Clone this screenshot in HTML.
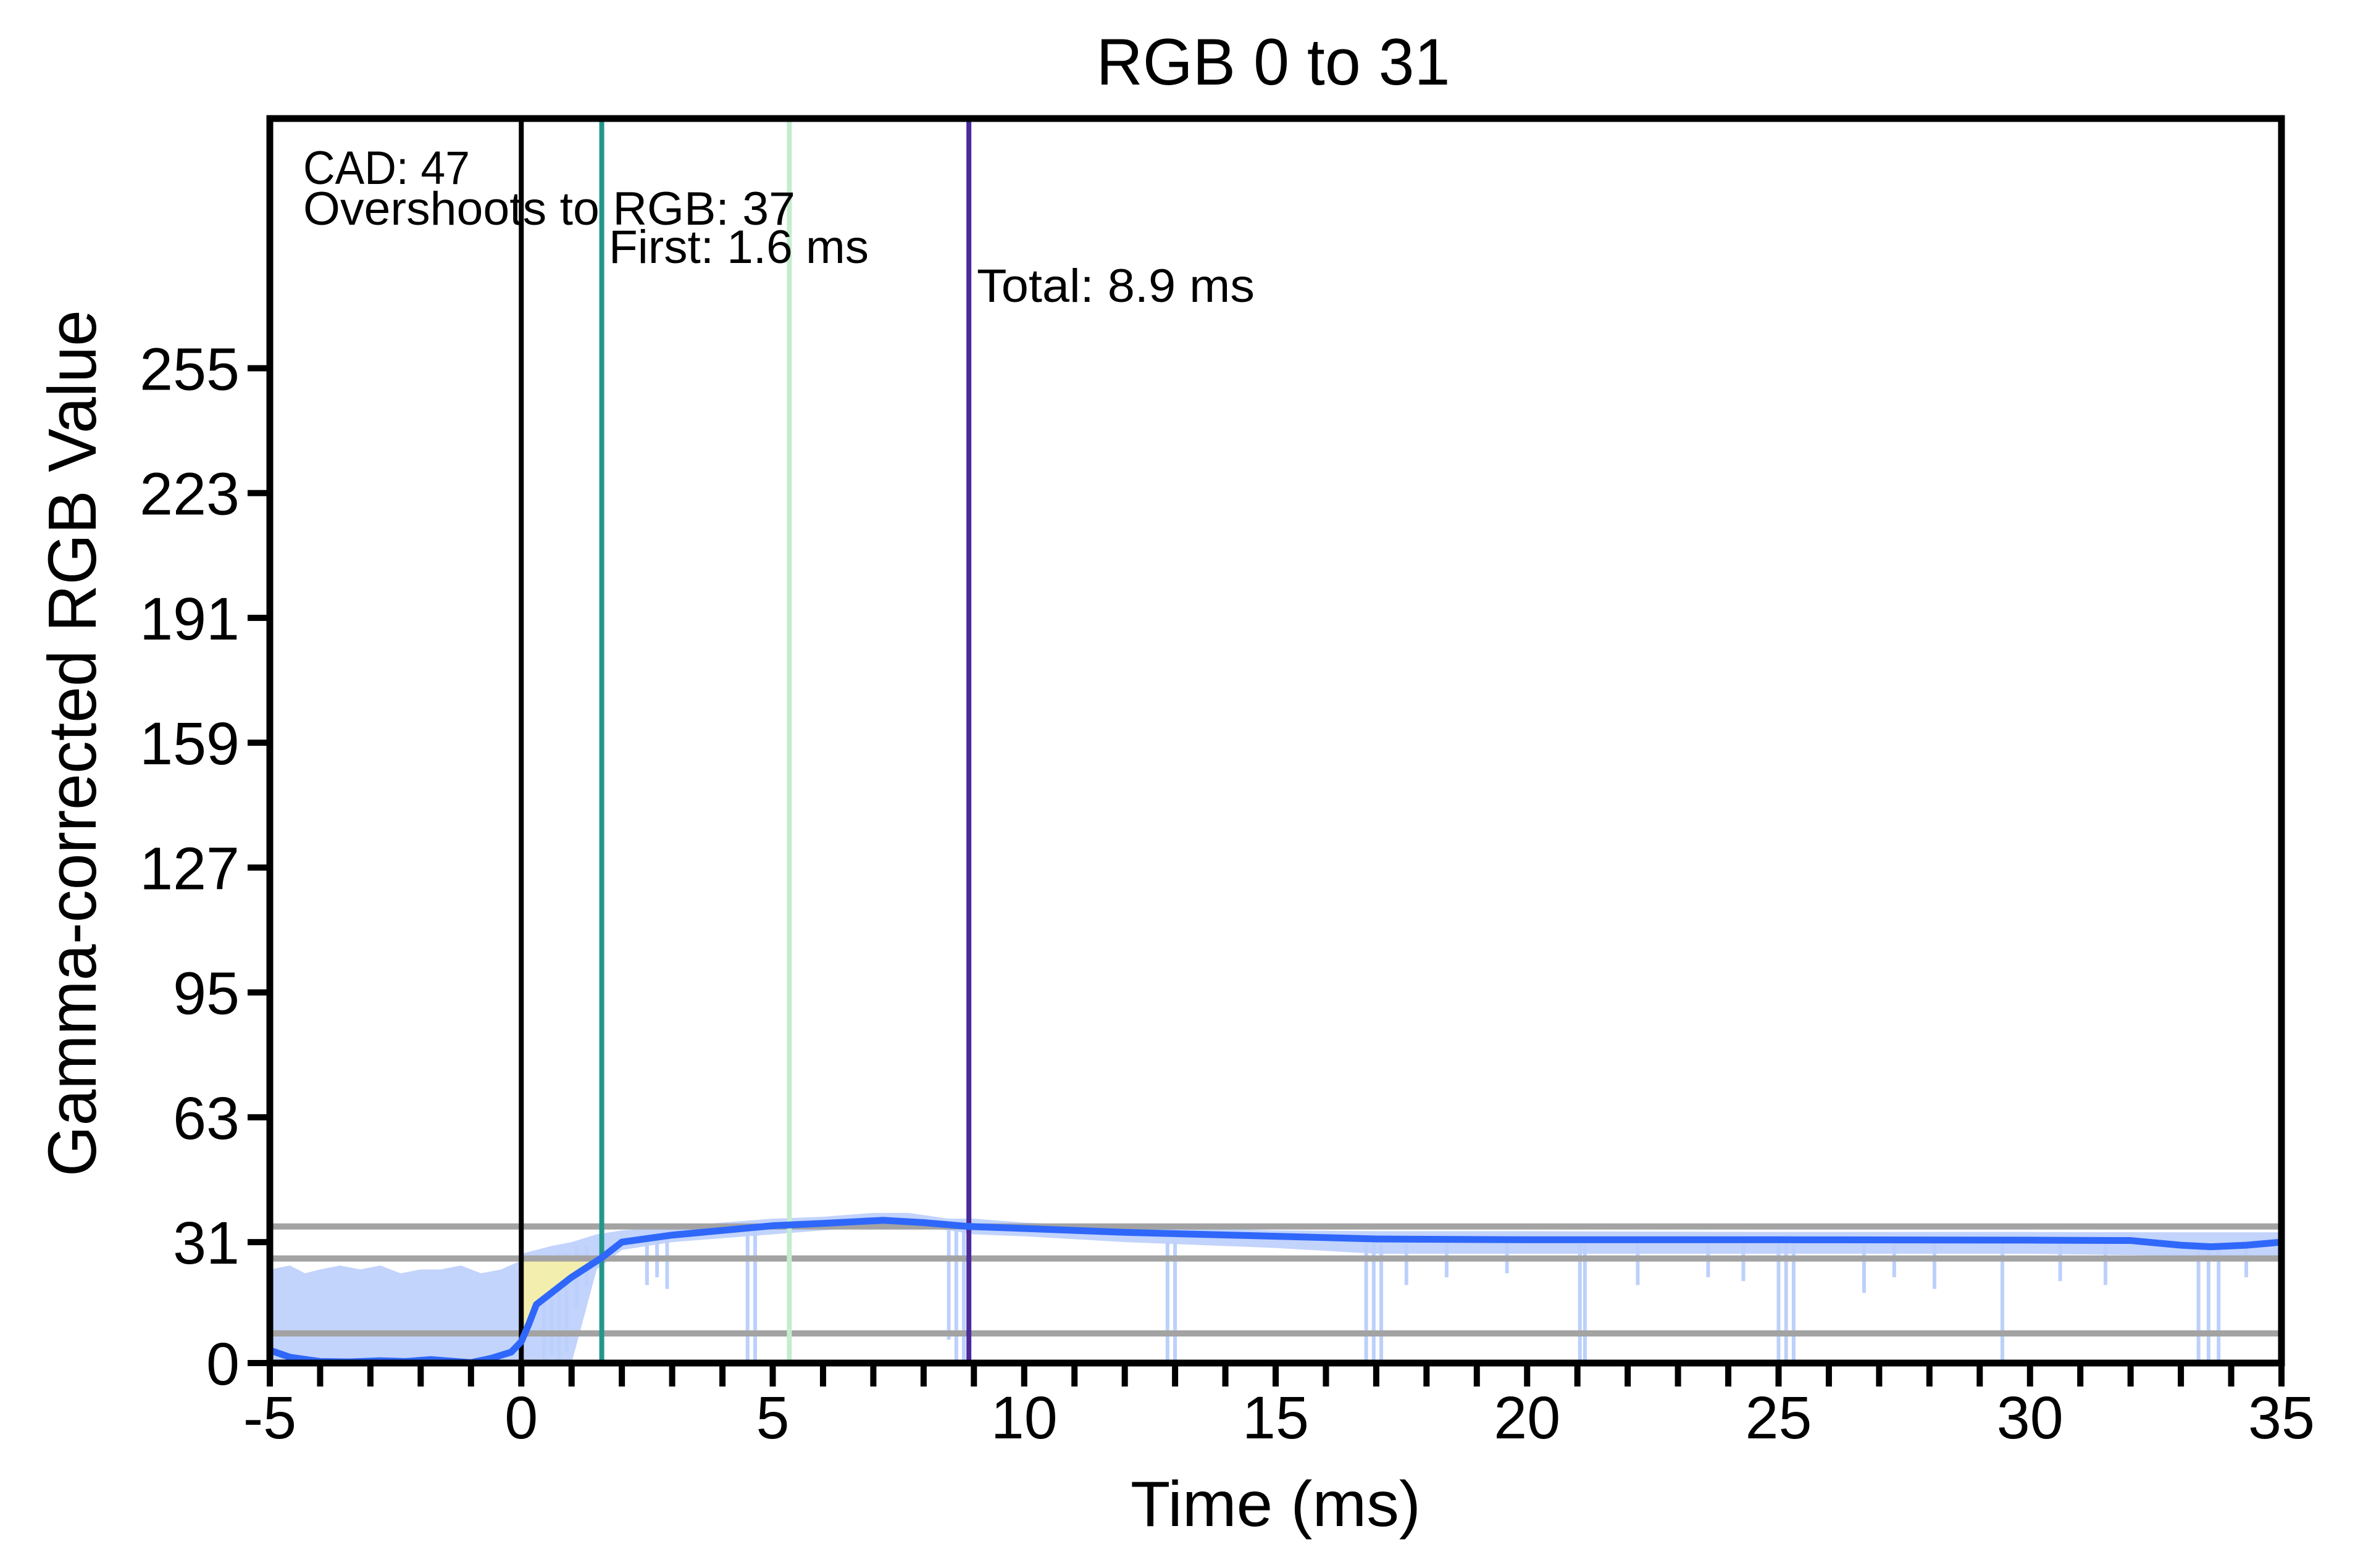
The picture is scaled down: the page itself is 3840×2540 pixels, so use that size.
<!DOCTYPE html>
<html><head><meta charset="utf-8"><style>
html,body{margin:0;padding:0;background:#fff;}
svg{display:block;}
text{font-family:"Liberation Sans",sans-serif;fill:#000;}
</style></head><body>
<svg id="chart" width="3840" height="2540" viewBox="0 0 3840 2540" xmlns="http://www.w3.org/2000/svg">
<rect x="0" y="0" width="3840" height="2540" fill="#fff"/>
<g id="plot"></g>
<text x="2062" y="137" font-size="107" text-anchor="middle" textLength="573" lengthAdjust="spacingAndGlyphs">RGB 0 to 31</text>
<text x="2066" y="2472" font-size="104" text-anchor="middle" textLength="470" lengthAdjust="spacingAndGlyphs">Time (ms)</text>
<text transform="translate(155,1204) rotate(-90)" font-size="110" text-anchor="middle" textLength="1404" lengthAdjust="spacingAndGlyphs">Gamma-corrected RGB Value</text>
</svg>
<script>
// ---- data ----
const xTicksMajor = [-5, 0, 5, 10, 15, 20, 25, 30, 35];
const yTicks = [0, 31, 63, 95, 127, 159, 191, 223, 255];
const thresholdLevels = [35, 26.8, 7.6];
const markerTimes = [0, 1.6, 5.33, 8.9];
const markerColors = ['#000000', '#23968c', '#c4ecd0', '#4b2a9c'];
const curveT = [-5, -4.6, -4.0, -3.4, -2.8, -2.3, -1.8, -1.5, -1.0, -0.6, -0.2, 0, 0.15, 0.3, 1.0, 1.6, 2.0, 3.0, 4.0, 5.0, 6.0, 7.2, 8.0, 8.9, 10, 12, 15, 17, 20, 25, 30, 32, 33, 33.6, 34.3, 35];
const curveV = [3.3, 1.5, 0.4, 0.3, 0.6, 0.4, 0.9, 0.6, 0.1, 1.2, 2.8, 5.5, 10, 15, 22, 27, 31, 32.8, 34, 35.2, 35.8, 36.6, 36.0, 35.0, 34.5, 33.5, 32.5, 31.8, 31.6, 31.6, 31.5, 31.4, 30.2, 29.8, 30.2, 31.0];
const rawT = [-5, -4.6, -4.3, -4.0, -3.6, -3.2, -2.8, -2.4, -2.0, -1.6, -1.2, -0.8, -0.4, -0.05, 0, 0.3, 0.6, 1.0, 1.5, 2.0, 3.0, 4.0, 5.0, 6.0, 7.0, 7.7, 8.5, 9.0, 10, 12, 15, 17, 20, 25, 30, 33, 35];
const rawHi = [24, 25, 23, 24, 25, 24, 25, 23, 24, 24, 25, 23, 24, 26, 28, 29, 30, 31, 33, 34, 35, 36, 37, 37.5, 38.5, 38.5, 37, 37, 36, 35, 34, 33.8, 33.8, 33.6, 33.6, 33.5, 33.5];
const rawLo = [0, 0, 0, 0, 0, 0, 0, 0, 0, 0, 0, 0, 0, 0, 0, 0, 0, 0, 24, 29, 31, 32, 33, 34, 35, 35, 34, 33, 32.5, 31, 29.5, 28, 28, 28, 28, 27.5, 27.5];
const dipT = [0.45, 0.6, 0.75, 0.9, 1.1, 1.3, 2.5, 2.7, 2.9, 4.5, 4.65, 8.5, 8.65, 8.8, 12.85, 13.0, 16.8, 16.95, 17.1, 17.6, 18.4, 19.6, 21.05, 21.15, 22.2, 23.6, 24.3, 25.0, 25.15, 25.3, 26.7, 27.3, 28.1, 29.45, 30.6, 31.5, 33.35, 33.55, 33.75, 34.3, 35.0];
const dipV = [0, 2, 0, 3, 14, 20, 20, 22, 19, 0, 0, 6, 0, 0, 0, 0, 0, 0, 0, 20, 22, 23, 0, 0, 20, 22, 21, 0, 0, 0, 18, 22, 19, 0, 21, 20, 0, 0, 0, 22, 15];
const shadeT = [0, 0.15, 0.3, 1.0, 1.6];
const shadeV = [5.5, 10, 15, 22, 27];
const shadeTop = 26.8;

// ---- axes ----
const X0 = 437, X1 = 3695, Y0 = 2208, Y1 = 192;
const tMin = -5, tMax = 35, vMin = 0, vMax = 319;
const sx = t => X0 + (t - tMin) / (tMax - tMin) * (X1 - X0);
const sy = v => Y0 - (v - vMin) / (vMax - vMin) * (Y0 - Y1);
const NS = 'http://www.w3.org/2000/svg';
const svg = document.getElementById('chart');
const plot = document.getElementById('plot');
function mk(tag, attrs, parent) {
  const e = document.createElementNS(NS, tag);
  for (const k in attrs) e.setAttribute(k, attrs[k]);
  (parent || plot).appendChild(e);
  return e;
}

const defs = mk('defs', {}, svg);
const cp = mk('clipPath', {id: 'clip'}, defs);
mk('rect', {x: X0, y: Y1, width: X1 - X0, height: Y0 - Y1}, cp);
const g = mk('g', {'clip-path': 'url(#clip)'});



let pts = rawT.map((t, i) => sx(t) + ',' + sy(rawHi[i]));
for (let i = rawT.length - 1; i >= 0; i--) pts.push(sx(rawT[i]) + ',' + sy(rawLo[i]));
const band = mk('polygon', {points: pts.join(' '), fill: '#c2d3fc'}, g);



dipT.forEach((t, i) => {
  const hiIdx = rawT.findIndex(x => x >= t);
  const top = rawHi[Math.max(0, hiIdx)] - 3;
  const d = mk('line', {x1: sx(t), x2: sx(t), y1: sy(top), y2: sy(dipV[i]), stroke: '#bcd0fb', 'stroke-width': 6}, g);
  
  
});

let sp = shadeT.map((t, i) => sx(t) + ',' + sy(shadeV[i]));
sp.push(sx(shadeT[shadeT.length - 1]) + ',' + sy(shadeTop));
sp.push(sx(shadeT[0]) + ',' + sy(shadeTop));
const shade = mk('polygon', {points: sp.join(' '), fill: '#fff59a', opacity: 0.8}, g);



thresholdLevels.forEach(v => {
  const l = mk('line', {x1: X0, x2: X1, y1: sy(v), y2: sy(v), stroke: '#a3a3a3', 'stroke-width': 10}, g);
  
  
});

markerTimes.forEach((t, i) => {
  const l = mk('line', {x1: sx(t), x2: sx(t), y1: Y1, y2: Y0, stroke: markerColors[i], 'stroke-width': 8}, g);
  
  
});

const c = mk('polyline', {points: curveT.map((t, i) => sx(t) + ',' + sy(curveV[i])).join(' '), fill: 'none', stroke: '#2f67fa', 'stroke-width': 11, 'stroke-linejoin': 'round', 'stroke-linecap': 'round'}, g);



const fr = mk('rect', {x: X0, y: Y1, width: X1 - X0, height: Y0 - Y1, fill: 'none', stroke: '#000', 'stroke-width': 11});



for (let t = tMin; t <= tMax; t++) {
  const tk = mk('line', {x1: sx(t), x2: sx(t), y1: Y0, y2: Y0 + 38, stroke: '#000', 'stroke-width': 10});
  
  
}
xTicksMajor.forEach(t => {
  const tx = mk('text', {x: sx(t), y: 2330, 'font-size': 97, 'text-anchor': 'middle'});
  tx.textContent = String(t);
  
  
});
yTicks.forEach(v => {
  const tk = mk('line', {x1: X0 - 36, x2: X0, y1: sy(v), y2: sy(v), stroke: '#000', 'stroke-width': 10});
  
  
  const tx = mk('text', {x: 388, y: sy(v) + 35, 'font-size': 97, 'text-anchor': 'end'});
  tx.textContent = String(v);
  
  
});

const ann = [
  ['CAD: 47', 491, 298, 270, 'cad-annotation'],
  ['Overshoots to RGB: 37', 491, 364, 797, 'overshoot-annotation'],
  ['First: 1.6 ms', 986, 426, 421, 'first-time-annotation'],
  ['Total: 8.9 ms', 1582, 489, 450, 'total-time-annotation']
];
ann.forEach(a => {
  const tx = mk('text', {x: a[1], y: a[2], 'font-size': 76, textLength: a[3], lengthAdjust: 'spacingAndGlyphs'});
  tx.textContent = a[0];
  
  
});
</script>
</body></html>
